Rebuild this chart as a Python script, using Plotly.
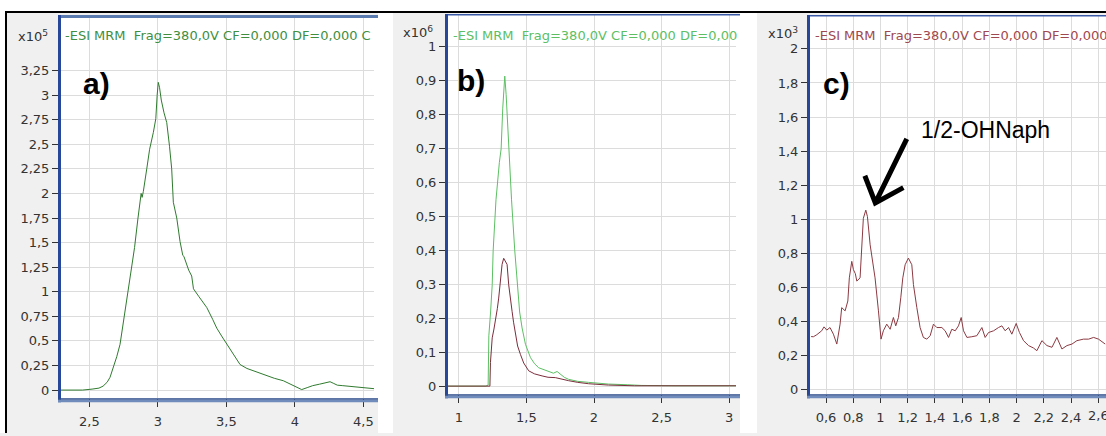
import plotly.graph_objects as go

W, H = 1106, 436


def px(x):
    return x / W


def py(y):
    return (H - y) / H


# ---------------- data ----------------
# panel a)  retention time (min) vs intensity (x10^5)
a_time = [2.29, 2.45, 2.52, 2.57, 2.60, 2.63, 2.651, 2.68, 2.70, 2.724,
          2.75, 2.78, 2.798, 2.83, 2.855, 2.870, 2.878, 2.885, 2.894, 2.919,
          2.94, 2.967, 2.985, 2.995, 3.003, 3.012, 3.025, 3.045, 3.065, 3.085,
          3.101, 3.113, 3.138, 3.162, 3.175, 3.182, 3.19, 3.211, 3.225, 3.247,
          3.26, 3.30, 3.357, 3.40, 3.43, 3.47, 3.503, 3.55, 3.60, 3.65,
          3.70, 3.75, 3.795, 3.85, 3.916, 3.98, 4.03, 4.05, 4.09, 4.13,
          4.18, 4.22, 4.257, 4.28, 4.31, 4.35, 4.42, 4.50, 4.61]
a_signal = [0.0, 0.0, 0.01, 0.02, 0.04, 0.08, 0.13, 0.25, 0.34, 0.465,
            0.70, 0.95, 1.14, 1.45, 1.75, 1.95, 2.00, 1.96, 2.02, 2.25,
            2.45, 2.62, 2.76, 3.00, 3.13, 3.08, 2.95, 2.82, 2.72, 2.48,
            2.25, 1.91, 1.75, 1.51, 1.40, 1.37, 1.36, 1.27, 1.22, 1.16,
            1.03, 0.95, 0.84, 0.72, 0.63, 0.54, 0.47, 0.36, 0.26, 0.22,
            0.195, 0.165, 0.145, 0.12, 0.095, 0.055, 0.02, 0.005, 0.025, 0.045,
            0.06, 0.07, 0.085, 0.07, 0.05, 0.045, 0.035, 0.025, 0.01]

# panel b)  two transitions (x10^6)
b_green_time = [0.92, 1.20, 1.217, 1.222, 1.235, 1.247, 1.254, 1.275, 1.30, 1.313,
                1.325, 1.34, 1.35, 1.369, 1.39, 1.414, 1.431, 1.45, 1.468, 1.493,
                1.53, 1.56, 1.591, 1.63, 1.665, 1.70, 1.727, 1.75, 1.78, 1.812,
                1.88, 1.96, 2.03, 2.108, 2.25, 2.35, 2.6, 3.08]
b_green_signal = [0.002, 0.002, 0.005, 0.15, 0.22, 0.30, 0.40, 0.55, 0.66, 0.70,
                  0.82, 0.914, 0.86, 0.70, 0.55, 0.40, 0.30, 0.22, 0.173, 0.125,
                  0.086, 0.068, 0.056, 0.05, 0.045, 0.04, 0.045, 0.038, 0.028, 0.022,
                  0.016, 0.013, 0.01, 0.008, 0.006, 0.004, 0.003, 0.003]
b_brown_time = [0.92, 1.23, 1.234, 1.247, 1.26, 1.271, 1.285, 1.295, 1.308, 1.32,
                1.332, 1.345, 1.357, 1.369, 1.38, 1.394, 1.405, 1.419, 1.435, 1.456,
                1.48, 1.517, 1.56, 1.616, 1.66, 1.714, 1.76, 1.812, 1.88, 1.96,
                2.108, 2.3, 3.08]
b_brown_signal = [0.002, 0.002, 0.071, 0.144, 0.17, 0.193, 0.23, 0.261, 0.32, 0.36,
                  0.378, 0.37, 0.36, 0.30, 0.26, 0.222, 0.19, 0.154, 0.12, 0.095,
                  0.07, 0.047, 0.038, 0.032, 0.028, 0.027, 0.022, 0.018, 0.013, 0.009,
                  0.005, 0.003, 0.003]

# panel c)  (x10^3)
c_time = [0.49, 0.507, 0.532, 0.568, 0.585, 0.605, 0.629, 0.654, 0.679, 0.703,
          0.715, 0.74, 0.76, 0.771, 0.789, 0.801, 0.815, 0.826, 0.85, 0.862,
          0.874, 0.892, 0.904, 0.924, 0.948, 0.96, 0.985, 1.004, 1.021, 1.046,
          1.071, 1.095, 1.112, 1.132, 1.149, 1.164, 1.181, 1.205, 1.23, 1.242,
          1.267, 1.291, 1.315, 1.34, 1.365, 1.389, 1.414, 1.451, 1.475, 1.5,
          1.524, 1.549, 1.573, 1.593, 1.61, 1.635, 1.671, 1.708, 1.745, 1.769,
          1.794, 1.831, 1.867, 1.892, 1.916, 1.941, 1.965, 1.997, 2.021, 2.051,
          2.088, 2.124, 2.149, 2.186, 2.223, 2.26, 2.296, 2.333, 2.37, 2.407,
          2.443, 2.492, 2.529, 2.566, 2.602, 2.651]
c_signal = [0.31, 0.309, 0.321, 0.344, 0.367, 0.348, 0.363, 0.324, 0.266, 0.383,
            0.48, 0.461, 0.519, 0.655, 0.752, 0.703, 0.68, 0.636, 0.655, 0.849,
            1.005, 1.053, 1.015, 0.849, 0.713, 0.655, 0.461, 0.295, 0.344, 0.383,
            0.353, 0.422, 0.373, 0.422, 0.538, 0.655, 0.732, 0.771, 0.732, 0.616,
            0.48, 0.363, 0.305, 0.295, 0.315, 0.383, 0.363, 0.363, 0.344, 0.305,
            0.353, 0.344, 0.373, 0.422, 0.344, 0.305, 0.309, 0.315, 0.363, 0.305,
            0.334, 0.344, 0.363, 0.373, 0.344, 0.363, 0.324, 0.387, 0.334, 0.286,
            0.257, 0.243, 0.227, 0.286, 0.257, 0.247, 0.305, 0.237, 0.257, 0.266,
            0.286, 0.295, 0.295, 0.305, 0.295, 0.266]

# tick values / labels
a_xticks = [2.5, 3, 3.5, 4, 4.5]
a_xlabels = ["2,5", "3", "3,5", "4", "4,5"]
a_yticks = [0, 0.25, 0.5, 0.75, 1, 1.25, 1.5, 1.75, 2, 2.25, 2.5, 2.75, 3, 3.25]
a_ylabels = ["0", "0,25", "0,5", "0,75", "1", "1,25", "1,5", "1,75", "2", "2,25",
             "2,5", "2,75", "3", "3,25"]
b_xticks = [1, 1.5, 2, 2.5, 3]
b_xlabels = ["1", "1,5", "2", "2,5", "3"]
b_yticks = [0, 0.1, 0.2, 0.3, 0.4, 0.5, 0.6, 0.7, 0.8, 0.9, 1]
b_ylabels = ["0", "0,1", "0,2", "0,3", "0,4", "0,5", "0,6", "0,7", "0,8", "0,9", "1"]
c_xticks = [0.6, 0.8, 1, 1.2, 1.4, 1.6, 1.8, 2, 2.2, 2.4, 2.6]
c_xlabels = ["0,6", "0,8", "1", "1,2", "1,4", "1,6", "1,8", "2", "2,2", "2,4", "2,6"]
c_yticks = [0, 0.2, 0.4, 0.6, 0.8, 1, 1.2, 1.4, 1.6, 1.8, 2]
c_ylabels = ["0", "0,2", "0,4", "0,6", "0,8", "1", "1,2", "1,4", "1,6", "1,8", "2"]

title_text = "-ESI MRM  Frag=380,0V CF=0,000 DF=0,000"

# ---------------- figure ----------------
fig = go.Figure()
line_w = 1.0
fig.add_trace(go.Scatter(x=a_time, y=a_signal, mode="lines",
                         line=dict(color="#2f7a2f", width=line_w),
                         xaxis="x", yaxis="y", showlegend=False, hoverinfo="skip"))
fig.add_trace(go.Scatter(x=b_green_time, y=b_green_signal, mode="lines",
                         line=dict(color="#5cbf63", width=line_w),
                         xaxis="x2", yaxis="y2", showlegend=False, hoverinfo="skip"))
fig.add_trace(go.Scatter(x=b_brown_time, y=b_brown_signal, mode="lines",
                         line=dict(color="#7b2d3b", width=line_w),
                         xaxis="x2", yaxis="y2", showlegend=False, hoverinfo="skip"))
fig.add_trace(go.Scatter(x=c_time, y=c_signal, mode="lines",
                         line=dict(color="#8b3a42", width=line_w),
                         xaxis="x3", yaxis="y3", showlegend=False, hoverinfo="skip"))

tickfont = dict(family="DejaVu Sans", size=13, color="#333333")


def xax(domain, rng, tv, tt, anchor):
    return dict(domain=domain, range=rng, tickmode="array", tickvals=tv, ticktext=tt,
                showline=False, ticks="outside", ticklen=8, tickcolor="#333333",
                ticklabelstandoff=3,
                showgrid=True, gridcolor="#dcdcdc", gridwidth=1, zeroline=False,
                tickfont=tickfont, anchor=anchor, fixedrange=True)


def yax(domain, rng, tv, tt, anchor):
    return dict(domain=domain, range=rng, tickmode="array", tickvals=tv, ticktext=tt,
                showline=False, ticks="outside", ticklen=8, tickcolor="#333333",
                showgrid=True, gridcolor="#dcdcdc", gridwidth=1, zeroline=False,
                tickfont=tickfont, anchor=anchor, fixedrange=True)


# pixel geometry of plot areas (left, right, top, bottom)
a_l, a_r, a_t, a_b = 61, 378, 15, 401
b_l, b_r, b_t, b_b = 448, 740, 14, 397
c_l, c_r, c_t, c_b = 810, 1106, 15, 397

fig.update_layout(
    width=W, height=H, autosize=False,
    margin=dict(l=0, r=0, t=0, b=0),
    paper_bgcolor="#f0f0f0", plot_bgcolor="white",
    xaxis=xax([px(a_l), px(a_r)], [2.293, 4.607], a_xticks, a_xlabels, "y"),
    yaxis=yax([py(a_b), py(a_t)], [-0.083, 3.816], a_yticks, a_ylabels, "x"),
    xaxis2=xax([px(b_l), px(b_r)], [0.92, 3.08], b_xticks, b_xlabels, "y2"),
    yaxis2=yax([py(b_b), py(b_t)], [-0.022, 1.097], b_yticks, b_ylabels, "x2"),
    xaxis3=xax([px(c_l), 1.0], [0.482, 2.657], c_xticks, c_xlabels, "y3"),
    yaxis3=yax([py(c_b), py(c_t)], [-0.029, 2.2], c_yticks, c_ylabels, "x3"),
)


def prect(x0, x1, y0, y1, color, layer="above"):
    return dict(type="rect", xref="paper", yref="paper", x0=px(x0), x1=px(x1),
                y0=py(y1), y1=py(y0), fillcolor=color, line=dict(width=0), layer=layer)


shapes = []
# white background outside the screenshot panels
for (x0, x1, y0, y1) in [(0, W, 0, 12), (0, 6, 0, H), (a_r, 393, 12, H), (b_r, 757, 12, H)]:
    shapes.append(prect(x0, x1, y0, y1, "white", "below"))
# clean light strips at the right edge of panels a and b
shapes.append(prect(a_r - 4, 393, a_t + 3, a_b, "white"))
shapes.append(prect(a_r, 393, a_t, H, "white"))
shapes.append(prect(b_r - 4, 757, b_t + 2, b_b, "white"))
shapes.append(prect(b_r, 757, b_t, H, "white"))
# black frame lines
shapes.append(prect(5, W, 11, 13, "black"))
shapes.append(prect(5, 7, 11, H, "black"))
# plot area borders: top bar, left (y) axis bar, bottom (x) axis bar
shapes.append(prect(a_l, a_r, a_t, a_t + 3, "#5a7bb0"))
shapes.append(prect(b_l, b_r, b_t, b_t + 1.5, "#3a5aa8"))
shapes.append(prect(c_l, c_r, c_t, c_t + 1.5, "#3a5aa8"))
for (l, r, t, b) in [(a_l, a_r, a_t, a_b), (b_l, b_r, b_t, b_b), (c_l, c_r, c_t, c_b)]:
    shapes.append(prect(l - 3, l, t, b + 4, "#27479a"))
    shapes.append(prect(l - 3, r, b, b + 1.5, "#2c4c8c"))
    shapes.append(prect(l - 3, r, b + 1.5, b + 4, "#6f8cbc"))
# arrow in panel c (data coordinates of panel c)
shapes.append(dict(type="path", xref="x3", yref="y3",
                   path="M 1.193 1.471 L 0.962 1.095 M 0.885 1.255 L 0.962 1.095 L 1.168 1.185",
                   line=dict(color="black", width=5)))
fig.update_layout(shapes=shapes)

ann = []
# scale factor labels
for (x, y, e) in [(16, 36, "5"), (401, 32, "6"), (766, 33, "3")]:
    ann.append(dict(text="x10<sup>%s</sup>" % e, xref="paper", yref="paper", x=px(x), y=py(y),
                    xanchor="left", yanchor="middle", showarrow=False,
                    font=dict(family="DejaVu Sans", size=13, color="#333333")))
# headers inside plot areas
for (x, col, txt) in [(63, "#3f8f3f", title_text + " C"), (451, "#5cc063", title_text[:-1]),
                      (813, "#a0484f", title_text)]:
    ann.append(dict(text=txt, xref="paper", yref="paper", x=px(x), y=py(36),
                    xanchor="left", yanchor="middle", showarrow=False,
                    font=dict(family="DejaVu Sans", size=13, color=col)))
# panel letters
for (x, y, t) in [(96, 84, "a)"), (471, 81, "b)"), (836, 84, "c)")]:
    ann.append(dict(text="<b>%s</b>" % t, xref="paper", yref="paper", x=px(x), y=py(y),
                    xanchor="center", yanchor="middle", showarrow=False,
                    font=dict(family="Liberation Sans", size=30, color="black")))
# compound label
ann.append(dict(text="1/2-OHNaph", xref="x3", yref="y3", x=1.77, y=1.525,
                xanchor="center", yanchor="middle", showarrow=False,
                font=dict(family="Liberation Sans", size=23, color="black")))
# last x tick label of panel c, cut by the image edge (plotly hides it)
ann.append(dict(text=c_xlabels[-1], xref="x3", yref="paper", x=c_xticks[-1], y=py(c_b + 12),
                xanchor="center", yanchor="top", showarrow=False, font=tickfont))
fig.update_layout(annotations=ann)

fig.write_html("out.html", config={"displayModeBar": False},
               post_script="document.body.style.margin='0';document.body.style.overflow='hidden';")
